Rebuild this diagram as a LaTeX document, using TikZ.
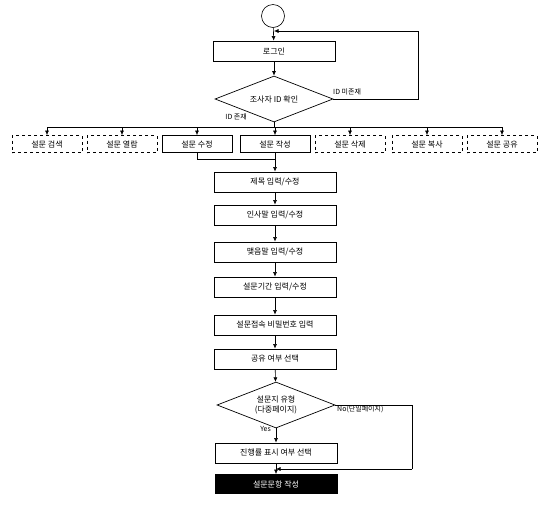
\documentclass[tikz,border=0pt]{standalone}
\usepackage{fontspec}
\setmainfont{Noto Sans CJK KR}
\usetikzlibrary{shapes.geometric,arrows.meta}
\tikzset{
  every node/.style={font=\fontsize{8}{9.5}\selectfont},
  proc/.style={draw, line width=0.8pt, minimum width=122pt, minimum height=20pt, inner sep=1pt},
  opt/.style={draw, line width=0.7pt, minimum width=70pt, minimum height=17pt, inner sep=1pt},
  optd/.style={opt, dashed},
  dec/.style={draw, line width=0.7pt, diamond, aspect=2.6, minimum width=118pt, minimum height=46pt, inner sep=0pt, align=center},
  arr/.style={line width=0.6pt, -{Latex[length=4.5pt,width=4pt]}},
  ln/.style={line width=0.6pt},
  lbl/.style={font=\fontsize{7}{8}\selectfont, inner sep=1pt}
}
\begin{document}
\begin{tikzpicture}[x=1pt,y=-1pt]
\useasboundingbox (0,0) rectangle (544,507);
\node[draw, circle, line width=0.6pt, minimum size=23pt, inner sep=0pt] (start) at (273,16) {};
\node[proc] (login) at (274,51) {로그인};
\node[dec] (chk) at (274,99) {조사자 ID 확인};
\node[lbl, anchor=south west] (nolbl) at (332,96) {ID 미존재};
\node[lbl, anchor=east] (yeslbl) at (248,117) {ID 존재};
\coordinate (busL) at (47,127);
\coordinate (busR) at (502,127);
\node[optd] (o1) at (47,144) {설문 검색};
\node[optd] (o2) at (122,144) {설문 열람};
\node[opt]  (o3) at (197,144) {설문 수정};
\node[opt]  (o4) at (275,144) {설문 작성};
\node[optd] (o5) at (350,144) {설문 삭제};
\node[optd] (o6) at (427,144) {설문 복사};
\node[optd] (o7) at (502,144) {설문 공유};
\node[proc] (p1) at (275,182) {제목 입력/수정};
\node[proc] (p2) at (275,215) {인사말 입력/수정};
\node[proc] (p3) at (275,252) {맺음말 입력/수정};
\node[proc] (p4) at (275,287) {설문기간 입력/수정};
\node[proc] (p5) at (275,325) {설문접속 비밀번호 입력};
\node[proc] (p6) at (275,359) {공유 여부 선택};
\node[dec] (typ) at (276,405) {설문지 유형\\(다중페이지)};
\node[lbl, anchor=north west] (nol) at (336,405) {No(단일페이지)};
\node[lbl, anchor=north east] (yesl) at (272,425) {Yes};
\node[proc] (p7) at (276,453) {진행률 표시 여부 선택};
\node[proc, fill=black, text=white, minimum height=19pt] (p8) at (276,484) {설문문항 작성};
% connectors
\draw[arr] (start) -- (login);
\draw[arr] (login) -- (chk);
\coordinate (lpR) at (418,99);
\coordinate (lpT) at (418,31);
\coordinate (lpE) at (274,31);
\draw[ln] (chk.east) -- (lpR) -- (lpT);
\draw[arr] (lpT) -- (lpE);
\draw[ln] (chk.south) -- (274,127);
\draw[ln] (busL) -- (busR);
\foreach \o/\x in {o1/47,o2/122,o3/197,o4/275,o5/350,o6/427,o7/502}
  \draw[arr] (\x,127) -- (\o.north);
\coordinate (mJ) at (275,159);
\draw[ln] (o3.south) -- (197,159) -- (mJ);
\draw[arr] (o4.south) -- (p1.north);
\draw[arr] (p1) -- (p2);
\draw[arr] (p2) -- (p3);
\draw[arr] (p3) -- (p4);
\draw[arr] (p4) -- (p5);
\draw[arr] (p5) -- (p6);
\draw[arr] (p6) -- (typ);
\draw[arr] (typ) -- (p7);
\coordinate (nR) at (412,405);
\coordinate (nB) at (412,469);
\coordinate (nE) at (276,469);
\draw[ln] (typ.east) -- (nR) -- (nB);
\draw[arr] (nB) -- (nE);
\draw[arr] (p7) -- (p8);
\end{tikzpicture}
\end{document}
